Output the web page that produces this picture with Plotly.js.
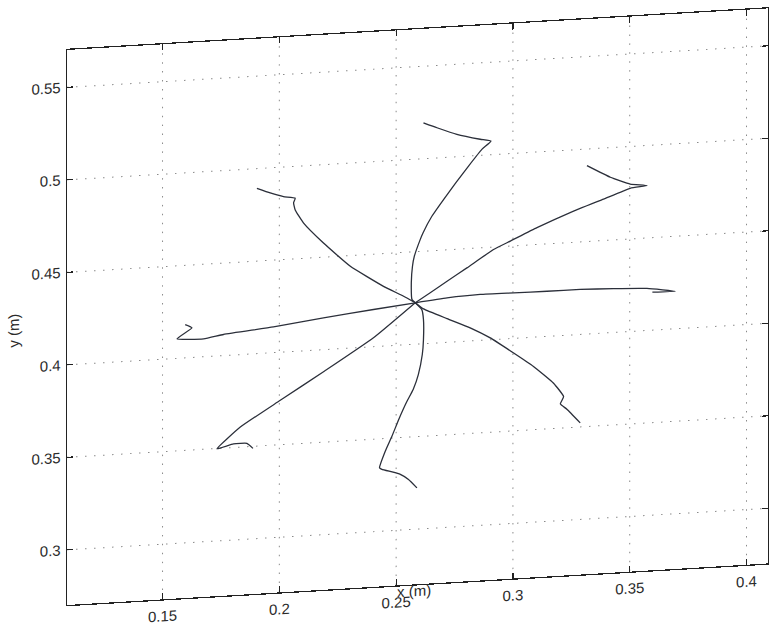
<!DOCTYPE html>
<html>
<head>
<meta charset="utf-8">
<script src="https://cdn.plot.ly/plotly-3.0.1.min.js"></script>
<style>
  html, body { margin: 0; padding: 0; overflow: hidden; background: #ffffff; width: 769px; height: 628px; }
  #plot { position: absolute; left: 0; top: 0; width: 769px; height: 660px;
          transform-origin: 0 0; transform: matrix(1, -0.05932, 0, 0.99107, 0, 6.4); }
</style>
</head>
<body>
<div id="plot"></div>
<script>
// Tick labels
const xTickVals = [0.15, 0.2, 0.25, 0.3, 0.35, 0.4];
const xTickText = ['0.15', '0.2', '0.25', '0.3', '0.35', '0.4'];
const yTickVals = [0.3, 0.35, 0.4, 0.45, 0.5, 0.55];
const yTickText = ['0.3', '0.35', '0.4', '0.45', '0.5', '0.55'];

// Trajectories (x, y in metres), all starting at the common centre
const northX = [0.2582, 0.2568, 0.2565, 0.2570, 0.2578, 0.2603, 0.2615, 0.2653, 0.2703, 0.2756, 0.2810, 0.2867, 0.2906, 0.2860, 0.2760, 0.2675, 0.2617];
const northY = [0.4224, 0.4242, 0.4333, 0.4422, 0.4476, 0.4564, 0.4599, 0.4686, 0.4773, 0.4860, 0.4946, 0.5032, 0.5074, 0.5087, 0.5121, 0.5163, 0.5194];

const northEastX = [0.2582, 0.2646, 0.2718, 0.2803, 0.2917, 0.2989, 0.3103, 0.3245, 0.3388, 0.3502, 0.3574, 0.3502, 0.3417, 0.3317];
const northEastY = [0.4224, 0.4273, 0.4330, 0.4396, 0.4487, 0.4527, 0.4591, 0.4662, 0.4724, 0.4774, 0.4783, 0.4797, 0.4840, 0.4910];

const eastX = [0.2582, 0.2718, 0.2860, 0.3003, 0.3146, 0.3288, 0.3431, 0.3574, 0.3695, 0.3597];
const eastY = [0.4224, 0.4240, 0.4248, 0.4246, 0.4244, 0.4243, 0.4237, 0.4227, 0.4203, 0.4205];

const southEastX = [0.2582, 0.2617, 0.2718, 0.2817, 0.2903, 0.3003, 0.3088, 0.3174, 0.3217, 0.3203, 0.3231, 0.3288];
const southEastY = [0.4224, 0.4188, 0.4128, 0.4071, 0.4010, 0.3921, 0.3842, 0.3745, 0.3669, 0.3631, 0.3600, 0.3522];

const southX = [0.2582, 0.2610, 0.2617, 0.2617, 0.2612, 0.2595, 0.2573, 0.2546, 0.2513, 0.2482, 0.2453, 0.2429, 0.2439, 0.2483, 0.2518, 0.2553, 0.2589];
const southY = [0.4224, 0.4185, 0.4131, 0.4022, 0.3942, 0.3835, 0.3756, 0.3693, 0.3604, 0.3510, 0.3430, 0.3344, 0.3334, 0.3317, 0.3301, 0.3271, 0.3223];

const southWestX = [0.2582, 0.2403, 0.2194, 0.2004, 0.1833, 0.1733, 0.1804, 0.1861, 0.1887];
const southWestY = [0.4224, 0.4048, 0.3884, 0.3740, 0.3608, 0.3498, 0.3519, 0.3518, 0.3489];

const westX = [0.2582, 0.2403, 0.2189, 0.1975, 0.1761, 0.1676, 0.1562, 0.1626, 0.1597];
const westY = [0.4224, 0.4201, 0.4172, 0.4139, 0.4114, 0.4097, 0.4106, 0.4160, 0.4180];

const northWestX = [0.2582, 0.2532, 0.2446, 0.2304, 0.2189, 0.2104, 0.2068, 0.2061, 0.2068, 0.2018, 0.1961, 0.1904];
const northWestY = [0.4224, 0.4263, 0.4323, 0.4442, 0.4576, 0.4690, 0.4764, 0.4803, 0.4828, 0.4840, 0.4864, 0.4893];

const series = [
  [northX, northY], [northEastX, northEastY], [eastX, eastY], [southEastX, southEastY],
  [southX, southY], [southWestX, southWestY], [westX, westY], [northWestX, northWestY]
];

const lineStyle = { color: '#2b2f3a', width: 1.3, shape: 'spline', smoothing: 0.4 };
const traces = series.map(s => ({
  x: s[0], y: s[1], type: 'scatter', mode: 'lines',
  line: lineStyle, showlegend: false, hoverinfo: 'skip'
}));

const font = { family: 'Liberation Sans, Arial, Helvetica, sans-serif', size: 15, color: '#2a2a2a' };
const axisCommon = {
  ticks: 'inside', ticklen: 6, tickwidth: 1.2, tickcolor: '#222',
  showline: true, linecolor: '#222', linewidth: 1.3, mirror: 'ticks',
  showgrid: true, gridcolor: '#8a8a8a', gridwidth: 1, griddash: '1.5px,7.5px',
  zeroline: false, tickfont: font, tickmode: 'array'
};

const layout = {
  width: 769, height: 660,
  margin: { l: 67, r: 1, t: 48, b: 52 },
  paper_bgcolor: '#ffffff', plot_bgcolor: '#ffffff',
  font: font,
  xaxis: Object.assign({}, axisCommon, {
    range: [0.1091, 0.4092], tickvals: xTickVals, ticktext: xTickText, ticklabelstandoff: 3
  }),
  yaxis: Object.assign({}, axisCommon, {
    range: [0.2702, 0.5702], tickvals: yTickVals, ticktext: yTickText, ticklabelstandoff: 2,
    title: { text: 'y (m)', font: font, standoff: 8 }
  }),
  annotations: [{
    text: 'x (m)', xref: 'x', yref: 'paper', x: 0.2578, y: 0, yshift: -6,
    xanchor: 'center', yanchor: 'middle', showarrow: false, font: font
  }]
};

Plotly.newPlot('plot', traces, layout, { staticPlot: true, displayModeBar: false });
</script>
</body>
</html>
